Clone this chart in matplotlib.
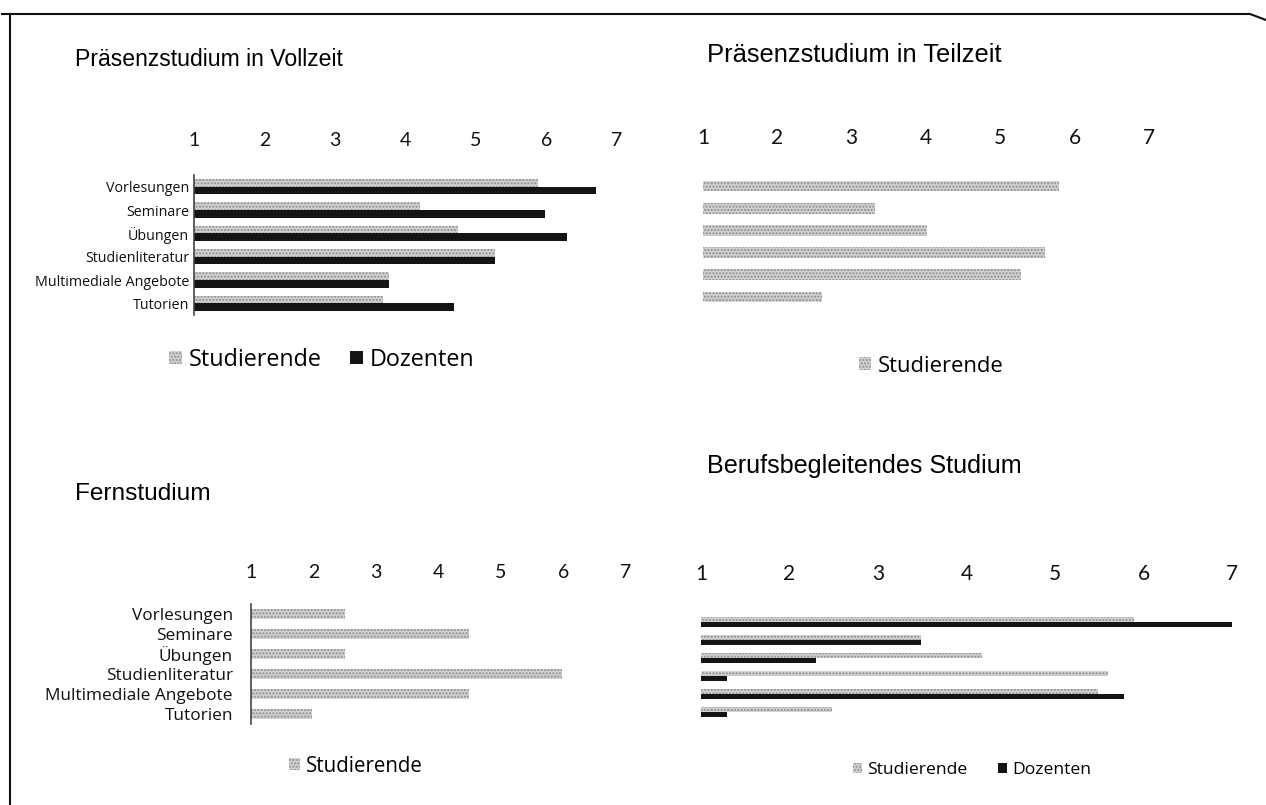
import matplotlib

matplotlib.use("Agg")
import matplotlib.pyplot as plt
from matplotlib.lines import Line2D
import numpy as np

W, H = 1266, 805

categories = ["Vorlesungen", "Seminare", "Übungen", "Studienliteratur",
              "Multimediale Angebote", "Tutorien"]
scale_ticks = [1, 2, 3, 4, 5, 6, 7]

# Präsenzstudium in Vollzeit
vollzeit_stud = [5.88, 4.21, 4.74, 5.27, 3.77, 3.68]
vollzeit_doz = [6.70, 5.98, 6.29, 5.27, 3.77, 4.69]
# Präsenzstudium in Teilzeit
teilzeit_stud = [5.79, 3.31, 4.01, 5.60, 5.28, 2.60]
# Fernstudium
fern_stud = [2.50, 4.48, 2.50, 5.97, 4.48, 1.98]
# Berufsbegleitendes Studium
beruf_stud = [5.89, 3.49, 4.18, 5.60, 5.49, 2.48]
beruf_doz = [7.00, 3.49, 2.30, 1.29, 5.78, 1.29]

STUD_FACE = "#d2d2d2"
STUD_HATCH = "#8c8c8c"
DOZ = "#141414"
TICK_FONT = "Lato"
TEXT_FONT = "Open Sans"
TITLE_FONT = "Liberation Sans"

fig = plt.figure(figsize=(W / 100, H / 100), dpi=100)
fig.patch.set_facecolor("white")


def px_axes(left, right, top, bottom):
    return fig.add_axes([left / W, 1 - bottom / H, (right - left) / W, (bottom - top) / H])


def style_axes(ax, tick_size, tick_pad, show_labels, label_size, label_pad, spine):
    ax.set_xlim(1, 7)
    ax.set_ylim(len(categories) - 0.5, -0.5)
    ax.xaxis.set_ticks_position("top")
    ax.set_xticks(scale_ticks)
    ax.set_xticklabels([str(t) for t in scale_ticks], fontsize=tick_size,
                       family=TICK_FONT, color="#111111")
    ax.tick_params(axis="x", length=0, pad=tick_pad)
    ax.set_yticks(np.arange(len(categories)))
    if show_labels:
        ax.set_yticklabels(categories, fontsize=label_size, family=TEXT_FONT,
                           color="#111111")
    else:
        ax.set_yticklabels([])
    ax.tick_params(axis="y", length=0, pad=label_pad)
    for s in ["top", "right", "bottom"]:
        ax.spines[s].set_visible(False)
    ax.spines["left"].set_visible(spine)
    ax.spines["left"].set_color("#444444")
    ax.spines["left"].set_linewidth(1.2)
    ax.set_facecolor("none")


def stud_bars(ax, y, vals, h, label="Studierende"):
    return ax.barh(y, np.array(vals) - 1, left=1, height=h, color=STUD_FACE,
                   hatch=".....", edgecolor=STUD_HATCH, linewidth=0, label=label)


def doz_bars(ax, y, vals, h, label="Dozenten"):
    return ax.barh(y, np.array(vals) - 1, left=1, height=h, color=DOZ,
                   edgecolor=DOZ, linewidth=0, label=label)


def legend(ax, xc, yc, size, ncol, spacing):
    ax.legend(loc="center", bbox_to_anchor=(xc / W, 1 - yc / H),
              bbox_transform=fig.transFigure, ncol=ncol, frameon=False,
              prop={"family": TEXT_FONT, "size": size},
              handlelength=0.55, handleheight=0.5, handletextpad=0.3,
              columnspacing=spacing)


y = np.arange(len(categories))

# ── Präsenzstudium in Vollzeit ────────────────────────────────────────
ax1 = px_axes(194, 617, 175, 315)
stud_bars(ax1, y - 0.165, vollzeit_stud, 0.33)
doz_bars(ax1, y + 0.165, vollzeit_doz, 0.33)
style_axes(ax1, 14, 19, True, 10.3, 3.5, True)
legend(ax1, 322, 360, 16.8, 2, 1.2)
fig.text(75 / W, 1 - 60 / H, "Präsenzstudium in Vollzeit", fontsize=16.6,
         family=TITLE_FONT, va="center", ha="left")

# ── Präsenzstudium in Teilzeit ────────────────────────────────────────
ax2 = px_axes(703, 1149, 175, 308)
stud_bars(ax2, y, teilzeit_stud, 0.48)
style_axes(ax2, 15, 19.5, False, 10, 3, False)
legend(ax2, 931, 366, 15.8, 1, 1.5)
fig.text(707 / W, 1 - 55 / H, "Präsenzstudium in Teilzeit", fontsize=18.4,
         family=TITLE_FONT, va="center", ha="left")

# ── Fernstudium ───────────────────────────────────────────────────────
ax3 = px_axes(251, 626, 604, 724)
stud_bars(ax3, y, fern_stud, 0.46)
style_axes(ax3, 14, 16.5, True, 12.4, 13, True)
legend(ax3, 356, 766, 14.8, 1, 1.5)
fig.text(75 / W, 1 - 494 / H, "Fernstudium", fontsize=17.6,
         family=TITLE_FONT, va="center", ha="left")

# ── Berufsbegleitendes Studium ────────────────────────────────────────
ax4 = px_axes(701, 1232, 613, 721)
stud_bars(ax4, y - 0.15, beruf_stud, 0.3)
doz_bars(ax4, y + 0.15, beruf_doz, 0.3)
style_axes(ax4, 15, 21, False, 10, 3, False)
legend(ax4, 972, 770, 12.6, 2, 1.7)
fig.text(707 / W, 1 - 466 / H, "Berufsbegleitendes Studium", fontsize=18.1,
         family=TITLE_FONT, va="center", ha="left")

# ── scanned page frame ────────────────────────────────────────────────
fig.add_artist(Line2D([2 / W, 1250 / W, 1266 / W], [1 - 14 / H, 1 - 14 / H, 1 - 20 / H],
                      transform=fig.transFigure, color="#111111", linewidth=1.5))
fig.add_artist(Line2D([10 / W, 10 / W], [1 - 14 / H, 0], transform=fig.transFigure,
                      color="#111111", linewidth=1.5))

fig.savefig("out.png", dpi=100, facecolor="white")
